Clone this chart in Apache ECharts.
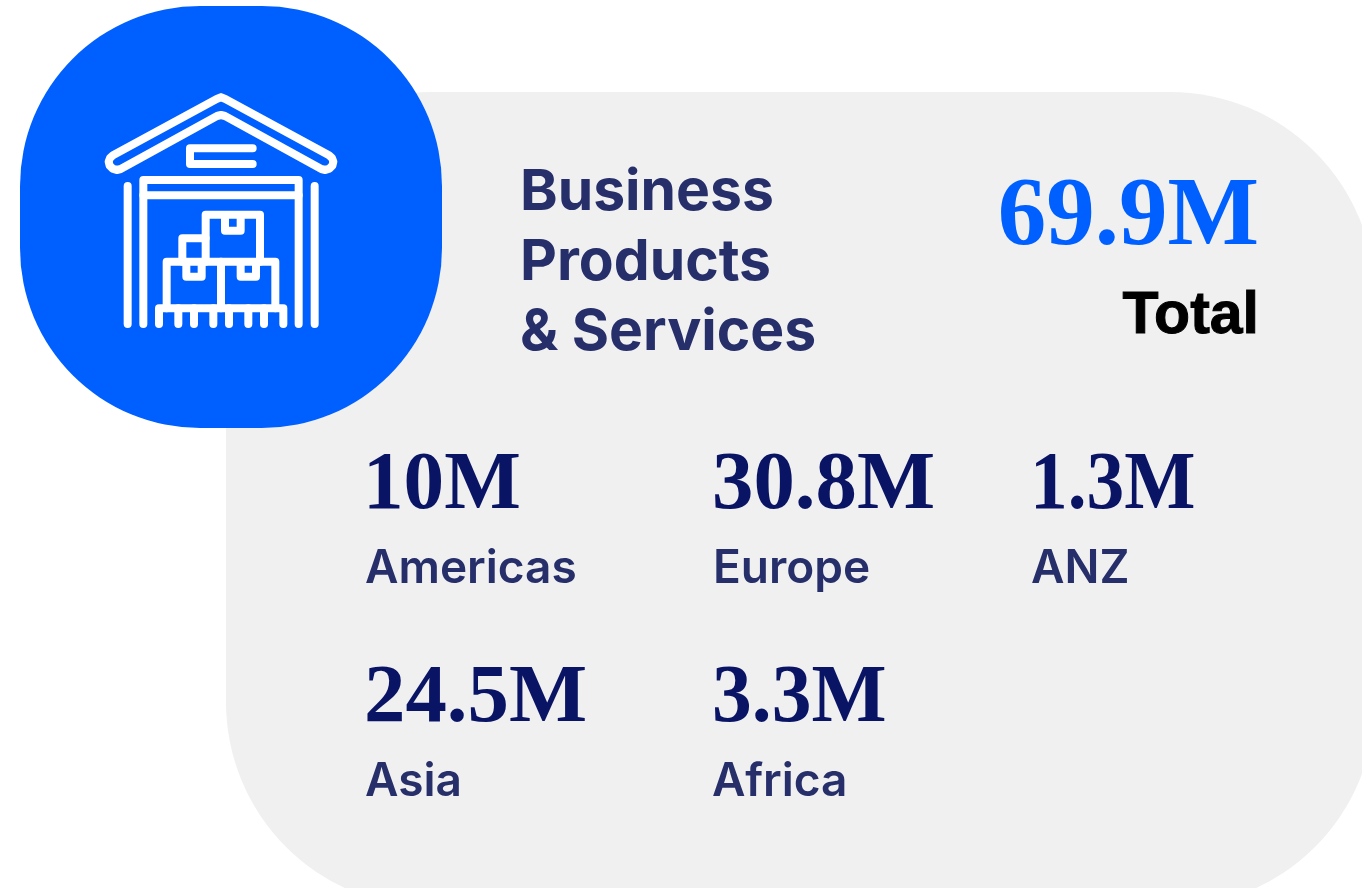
<!DOCTYPE html>
<html>
<head>
<meta charset="utf-8">
<title>Business Products & Services</title>
<style>
  html, body { margin: 0; padding: 0; background: #fff; }
  #chart { width: 1362px; height: 888px; }
</style>
<script src="https://cdn.jsdelivr.net/npm/echarts@6/dist/echarts.min.js"></script>
</head>
<body>
<div id="chart"></div>
<script>
// data
const titleLines = ['Business', 'Products', '& Services']
const totalLabel = 'Total'
const totalValue = 69.9
const regions = ['Americas', 'Europe', 'ANZ', 'Asia', 'Africa']
const regionValues = [10, 30.8, 1.3, 24.5, 3.3]

// where each region cell sits
const cellX = [363, 712, 1030, 364, 712]
const cellY = [487, 487, 487, 700, 700]
const labelX = [365, 713, 1031, 365, 712]
// the serif here has wider digits than the original one
const cellScale = [0.99, 1.01, 0.92, 1.01, 0.97]

const serif = '"Liberation Serif", serif'
const sans = 'Inter, "Noto Sans", sans-serif'

function text(x, y, str, font, fill, align) {
  return {
    type: 'text',
    x: x,
    y: y,
    style: { text: str, font: font, fill: fill, align: align || 'left', verticalAlign: 'middle' }
  }
}

// warehouse icon, coordinates are 3x and the group scales them down
const iconStyle = { fill: 'none', stroke: '#fff', lineWidth: 24, lineCap: 'round', lineJoin: 'round' }
function iconLine(points) {
  return { type: 'polyline', shape: { points: points }, style: iconStyle }
}
const roofRight = [[406, 57], [717, 226], [726, 234], [730, 245], [727, 257], [718, 266], [706, 270], [694, 267], [405, 108]]
const roofLeft = roofRight.map(p => [786 - p[0], p[1]]).reverse()
const roofPoints = [[393, 52]].concat(roofRight, [[393, 105]], roofLeft, [[393, 52]])
const iconLines = [
  roofPoints,
  [[488, 205], [300, 205], [300, 252], [488, 252]],
  [[113, 318], [113, 732]],
  [[674, 318], [674, 732]],
  [[160, 732], [160, 300], [626, 300], [626, 732]],
  [[160, 346], [626, 346]],
  [[347, 545], [347, 404], [510, 404], [510, 545]],
  [[405, 410], [405, 452], [452, 452], [452, 410]],
  [[277, 545], [277, 475], [347, 475]],
  [[230, 685], [230, 545], [556, 545], [556, 685]],
  [[393, 545], [393, 685]],
  [[289, 550], [289, 590], [335, 590], [335, 550]],
  [[452, 550], [452, 590], [498, 590], [498, 550]],
  [[207, 732], [207, 685], [580, 685], [580, 732]],
  [[265, 685], [265, 732]],
  [[312, 685], [312, 732]],
  [[370, 685], [370, 732]],
  [[417, 685], [417, 732]],
  [[475, 685], [475, 732]],
  [[522, 685], [522, 732]]
]

const elements = [
  { type: 'rect', shape: { x: 226, y: 92, width: 1149, height: 815, r: 205 }, style: { fill: '#f0f0f0' } },
  { type: 'rect', shape: { x: 20, y: 6, width: 422, height: 422, r: 180 }, style: { fill: '#005fff' } },
  { type: 'group', x: 90, y: 80, scaleX: 1 / 3, scaleY: 1 / 3, children: iconLines.map(iconLine) }
]

titleLines.forEach((line, i) => {
  elements.push(text(520, 193 + i * 70, line, '700 57px ' + sans, '#262f69'))
})
elements.push(text(1259, 219, totalValue + 'M', 'bold 97px ' + serif, '#0060ff', 'right'))

const total = text(1259, 317, totalLabel, 'bold 59px "Liberation Sans", sans-serif', '#000', 'right')
total.style.stroke = '#000'
total.style.lineWidth = 1
elements.push(total)

regions.forEach((name, i) => {
  const value = text(cellX[i], cellY[i], regionValues[i] + 'M', 'bold 82px ' + serif, '#0a1464')
  value.scaleX = cellScale[i]
  elements.push(value)
  elements.push(text(labelX[i], cellY[i] + 82, name, '600 46px ' + sans, '#262f69'))
})

const chart = echarts.init(document.getElementById('chart'))
chart.setOption({
  animation: false,
  backgroundColor: '#fff',
  graphic: { elements: elements }
})
</script>
</body>
</html>
